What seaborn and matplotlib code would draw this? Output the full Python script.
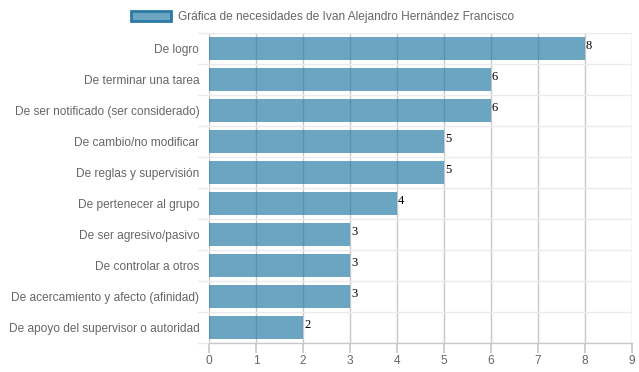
import numpy as np
import pandas as pd
import matplotlib
matplotlib.use("Agg")
import matplotlib.pyplot as plt
import seaborn as sns
from matplotlib.patches import Patch

# Data
categories = [
    "De logro",
    "De terminar una tarea",
    "De ser notificado (ser considerado)",
    "De cambio/no modificar",
    "De reglas y supervisión",
    "De pertenecer al grupo",
    "De ser agresivo/pasivo",
    "De controlar a otros",
    "De acercamiento y afecto (afinidad)",
    "De apoyo del supervisor o autoridad",
]
values = [8, 6, 6, 5, 5, 4, 3, 3, 3, 2]
legend_label = "Gráfica de necesidades de Ivan Alejandro Hernández Francisco"

df = pd.DataFrame({"categoria": categories, "valor": values})

bar_edge = "#2a7aa8"
bar_fill = (38 / 255, 122 / 255, 166 / 255, 0.68)

sns.set_theme(style="white")
plt.rcParams["font.family"] = ["Liberation Sans", "DejaVu Sans"]

fig = plt.figure(figsize=(6.39, 3.72), dpi=100)
ax = fig.add_axes([209 / 639, 1 - 343 / 372, 423 / 639, 310 / 372])

# Grid lines below bars
ax.set_axisbelow(True)
sns.barplot(data=df, y="categoria", x="valor", orient="h", color=bar_fill,
            width=0.72, saturation=1, ax=ax, zorder=2)
for p in ax.patches:
    p.set_facecolor(bar_fill)
    p.set_edgecolor("none")

ax.set_xlim(0, 9)
ax.set_ylim(len(categories) - 0.5, -0.5)
ax.set_xticks(np.arange(0, 10))
ax.set_yticks(np.arange(len(categories)))
ax.set_yticklabels(categories)
ax.set_yticks(np.arange(-0.5, len(categories)), minor=True)

ax.grid(axis="x", which="major", color="#c8c8c8", linewidth=1, zorder=0)
ax.grid(axis="y", which="minor", color="#ebebeb", linewidth=1, zorder=0)

ax.tick_params(axis="x", which="major", length=7, color="#c8c8c8", labelsize=8.6,
               labelcolor="#666666", pad=2, bottom=True)
ax.tick_params(axis="y", which="major", length=0, labelsize=8.6,
               labelcolor="#666666", pad=7)
ax.tick_params(axis="y", which="minor", length=9, color="#ebebeb", left=True)

for side in ["top", "right", "left"]:
    ax.spines[side].set_visible(False)
ax.spines["bottom"].set_color("#c8c8c8")
ax.spines["bottom"].set_linewidth(1)

ax.set_xlabel("")
ax.set_ylabel("")

# Value labels
for i, v in enumerate(values):
    ax.text(v + 0.02, i - 0.08, str(v), ha="left", va="center", fontsize=9,
            color="black", family=["Liberation Serif", "DejaVu Serif"])

# Legend
handle = Patch(facecolor=bar_fill, edgecolor=bar_edge, linewidth=2)
fig.legend([handle], [legend_label], loc="upper center",
           bbox_to_anchor=(0.505, 1.0), frameon=False, fontsize=8.6,
           handlelength=3.3, handleheight=0.9, handletextpad=0.6,
           labelcolor="#666666")

fig.savefig("out.png", dpi=100)
plt.close(fig)
